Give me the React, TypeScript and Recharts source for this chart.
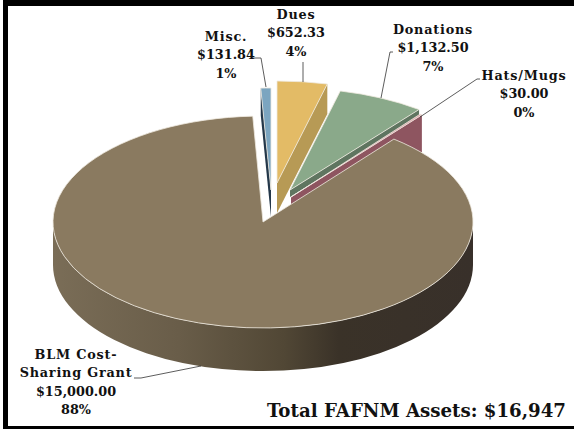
import { Pie, PieChart } from "recharts";

const names = ["Misc.", "Dues", "Donations", "Hats/Mugs", "BLM Cost-Sharing Grant"];
const values = [131.84, 652.33, 1132.5, 30, 15000];
const percentLabels = ["1%", "4%", "7%", "0%", "88%"];
const totalLabel = "Total FAFNM Assets: $16,947";

const chartData = names.map((name, i) => ({ name, value: values[i] }));

// top face / cut face colours, same order as the data
const topColors = ["#7ba5c0", "#e3bb66", "#8aa98a", "#e3a5ad", "#8a7a60"];
const sideColors = ["#24384a", "#b79a55", "#5f7560", "#8e5560", "#4f4535"];

// exploded slices, measured as offset from the pie centre
const CX = 263;
const CY = 222;
const RX = 210;
const explode = [
  { dx: 8, dy: -32, ry: 102, depth: 27 },
  { dx: 14, dy: -39, ry: 102, depth: 30 },
  { dx: 27, dy: -32, ry: 102, depth: 7 },
  { dx: 28, dy: -25, ry: 105, depth: 37 },
  { dx: 0, dy: 0, ry: 106, depth: 43 },
];

const labelLines = [
  ["Misc."],
  ["Dues"],
  ["Donations"],
  ["Hats/Mugs"],
  ["BLM Cost-", "Sharing Grant"],
];
const labelPos = [
  { x: 226, y: 41 },
  { x: 296, y: 19 },
  { x: 433, y: 34 },
  { x: 524, y: 80 },
  { x: 76, y: 359 },
];
const leaders = [
  "253,58 261,58 266,87",
  "303,62 303,82",
  "393,52 390,52 381,98",
  "480,79 477,79 420,117",
  "134,378 141,378 201,366",
];

const FONT = "'DejaVu Serif', serif";

const formatMoney = (v: number) =>
  "$" + v.toLocaleString("en-US", { minimumFractionDigits: 2, maximumFractionDigits: 2 });

function Slice3D(props: any) {
  const { cx, cy, startAngle, endAngle, index } = props;
  const { dx, dy, ry, depth } = explode[index];
  const ox = cx + dx;
  const oy = cy + dy;
  const pt = (a: number) => {
    const r = (a * Math.PI) / 180;
    return [ox + RX * Math.cos(r), oy - ry * Math.sin(r)];
  };
  const [sx, sy] = pt(startAngle);
  const [ex, ey] = pt(endAngle);
  const large = startAngle - endAngle > 180 ? 1 : 0;
  const top = `M${ox},${oy} L${sx},${sy} A${RX},${ry} 0 ${large} 1 ${ex},${ey} Z`;

  const face = (x: number, y: number) =>
    `M${ox},${oy} L${x},${y} L${x},${y + depth} L${ox},${oy + depth} Z`;
  const showStart = Math.cos((startAngle * Math.PI) / 180) < -0.001;
  const showEnd = Math.cos((endAngle * Math.PI) / 180) > 0.001;

  // outer wall only on the front half of the ellipse
  const hi = Math.min(startAngle, 0);
  const lo = Math.max(endAngle, -180);
  let wall = "";
  if (hi > lo) {
    const [ax, ay] = pt(hi);
    const [bx, by] = pt(lo);
    wall = `M${ax},${ay} A${RX},${ry} 0 0 1 ${bx},${by} L${bx},${by + depth} A${RX},${ry} 0 0 0 ${ax},${ay + depth} Z`;
  }

  return (
    <g>
      {wall && <path d={wall} fill="url(#wallShade)" />}
      {showStart && <path d={face(sx, sy)} fill={sideColors[index]} />}
      {showEnd && <path d={face(ex, ey)} fill={sideColors[index]} />}
      <path d={top} fill={topColors[index]} stroke="#efeae0" strokeWidth={0.8} strokeLinejoin="round" />
    </g>
  );
}

function SliceLabel(props: any) {
  const { index, value } = props;
  const { x, y } = labelPos[index];
  const nameCount = labelLines[index].length;
  const lines = [...labelLines[index], formatMoney(value), percentLabels[index]];
  return (
    <g>
      <polyline points={leaders[index]} fill="none" stroke="#333" strokeWidth={0.8} />
      <text
        textAnchor="middle"
        fontFamily={FONT}
        fontWeight="bold"
        fontSize={12.8}
        fill="#111"
      >
        {lines.map((line, i) => (
          <tspan key={i} x={x} y={y + i * 18.4} letterSpacing={i < nameCount ? 0.8 : 0}>
            {line}
          </tspan>
        ))}
      </text>
    </g>
  );
}

export default function App() {
  return (
    <div style={{ position: "absolute", left: 0, top: 0, width: 574, height: 429, background: "#fff" }}>
      <PieChart width={574} height={429} margin={{ top: 0, right: 0, bottom: 0, left: 0 }}>
        <defs>
          <linearGradient id="wallShade" x1="0" y1="0" x2="1" y2="0">
            <stop offset="0%" stopColor="#7a6d57" />
            <stop offset="30%" stopColor="#695d49" />
            <stop offset="55%" stopColor="#514735" />
            <stop offset="68%" stopColor="#3a3228" />
            <stop offset="100%" stopColor="#38302a" />
          </linearGradient>
        </defs>
        <Pie
          data={chartData}
          dataKey="value"
          nameKey="name"
          cx={CX}
          cy={CY}
          outerRadius={RX}
          startAngle={92.8}
          endAngle={-267.2}
          shape={Slice3D}
          label={SliceLabel}
          labelLine={false}
          isAnimationActive={false}
        >
        </Pie>
        <text
          x={566}
          y={417}
          textAnchor="end"
          fontFamily={FONT}
          fontWeight="bold"
          fontSize={18.2}
          fill="#111"
        >
          {totalLabel}
        </text>
      </PieChart>
      <div
        style={{
          position: "absolute",
          left: 3,
          top: 0,
          right: 0,
          bottom: 0,
          borderLeft: "5px solid #000",
          borderTop: "6px solid #000",
          borderBottom: "3px solid #000",
          pointerEvents: "none",
        }}
      />
    </div>
  );
}
